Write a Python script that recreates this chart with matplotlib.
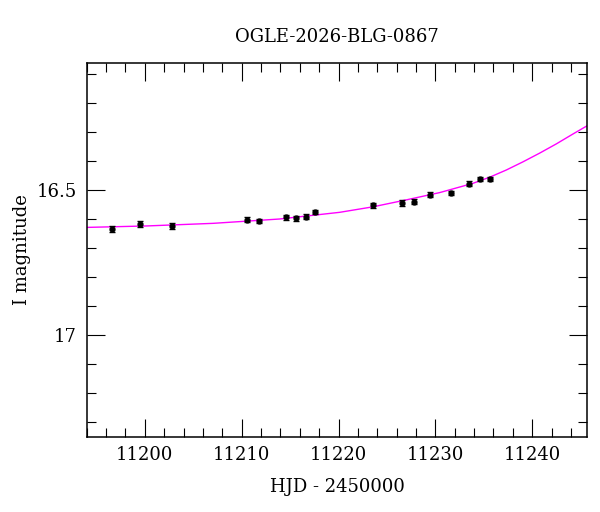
import matplotlib.pyplot as plt
from matplotlib.ticker import MultipleLocator

# photometry (HJD - 2450000, I mag, error)
hjd = [11196.59, 11199.51, 11202.79, 11210.60, 11211.76, 11214.58, 11215.61,
       11216.65, 11217.62, 11223.56, 11226.52, 11227.76, 11229.41, 11231.65,
       11233.47, 11234.57, 11235.68]
mag = [16.634, 16.618, 16.624, 16.603, 16.607, 16.594, 16.598,
       16.592, 16.576, 16.553, 16.545, 16.540, 16.516, 16.511,
       16.478, 16.462, 16.462]
err = [0.010, 0.010, 0.009, 0.009, 0.008, 0.009, 0.009,
       0.009, 0.008, 0.008, 0.009, 0.009, 0.008, 0.007,
       0.008, 0.007, 0.007]

# model curve
model_t = [11194.0, 11200.18, 11207.05, 11213.93, 11220.12, 11223.56, 11227.01,
           11230.44, 11233.88, 11235.60, 11237.33, 11239.04, 11240.76, 11242.49,
           11244.20, 11245.75]
model_m = [16.629, 16.624, 16.615, 16.600, 16.577, 16.558, 16.534,
           16.509, 16.477, 16.456, 16.431, 16.403, 16.373, 16.341,
           16.307, 16.277]

plt.rcParams['font.family'] = 'DejaVu Serif'

fig = plt.figure(figsize=(6, 5.12), dpi=100)
ax = fig.add_axes([0.1445, 0.147, 0.8345, 0.7305])

ax.plot(model_t, model_m, color='#ff00ff', lw=1.0, zorder=1)
ax.errorbar(hjd, mag, yerr=err, fmt='o', color='black', ms=3.5,
            elinewidth=1, capsize=2, capthick=1, zorder=2)

ax.set_xlim(11194.0, 11245.7)
ax.set_ylim(17.351, 16.061)

ax.xaxis.set_major_locator(MultipleLocator(10))
ax.xaxis.set_minor_locator(MultipleLocator(2))
ax.yaxis.set_major_locator(MultipleLocator(0.5))
ax.yaxis.set_minor_locator(MultipleLocator(0.1))
ax.yaxis.set_major_formatter(plt.FuncFormatter(lambda v, p: '%g' % v))

ax.tick_params(which='both', direction='in', top=True, right=True,
               labelsize=13, width=0.8)
ax.tick_params(axis='x', pad=6.5)
ax.tick_params(axis='y', pad=7)
ax.tick_params(which='major', length=13)
ax.tick_params(which='minor', length=6.5)
for s in ax.spines.values():
    s.set_linewidth(1.1)

ax.set_xlabel('HJD - 2450000', fontsize=13, labelpad=10)
ax.set_ylabel('I magnitude', fontsize=13, labelpad=4)
ax.set_title('OGLE-2026-BLG-0867', fontsize=13, pad=15)

fig.savefig('out.png', dpi=100)
